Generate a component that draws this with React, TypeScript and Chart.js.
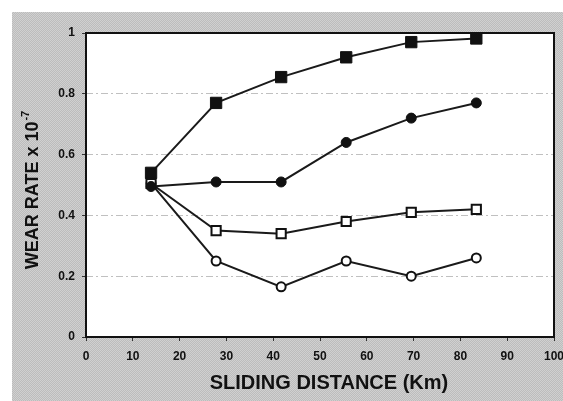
import React, { useEffect, useRef } from "react";
import { Chart, registerables } from "chart.js";

Chart.register(...registerables);

// Sliding distance (km)
const distanceKm = [13.9, 27.8, 41.7, 55.6, 69.5, 83.4];
// Wear rate x 10^-7
const filledSquareSeries = [0.54, 0.77, 0.855, 0.92, 0.97, 0.982];
const filledCircleSeries = [0.495, 0.51, 0.51, 0.64, 0.72, 0.77];
const openSquareSeries = [0.505, 0.35, 0.34, 0.38, 0.41, 0.42];
const openCircleSeries = [0.505, 0.25, 0.165, 0.25, 0.2, 0.26];

const xTitle = "SLIDING DISTANCE (Km)";
const yTitleMain = "WEAR RATE x 10";
const yTitleSup = "-7";

const FONT = "'Liberation Sans', Arial, Helvetica, sans-serif";

function toPoints(ys: number[]) {
  return distanceKm.map((x, i) => ({ x, y: ys[i] }));
}

function makePattern(ctx: CanvasRenderingContext2D) {
  const c = document.createElement("canvas");
  c.width = 2;
  c.height = 2;
  const p = c.getContext("2d")!;
  p.fillStyle = "#bcbcbc";
  p.fillRect(0, 0, 2, 2);
  p.fillStyle = "#d0d0d0";
  p.fillRect(0, 0, 1, 1);
  p.fillRect(1, 1, 1, 1);
  return ctx.createPattern(c, "repeat");
}

const framePlugin = {
  id: "frame",
  beforeDraw(chart: any) {
    const { ctx, chartArea } = chart;
    ctx.save();
    ctx.fillStyle = "#ffffff";
    ctx.fillRect(0, 0, chart.width, chart.height);
    ctx.fillStyle = makePattern(ctx) || "#c6c6c6";
    ctx.fillRect(12, 12, chart.width - 12, chart.height - 12);
    ctx.fillStyle = "#ffffff";
    ctx.fillRect(chartArea.left, chartArea.top, chartArea.right - chartArea.left, chartArea.bottom - chartArea.top);
    ctx.restore();
  },
  beforeDatasetsDraw(chart: any) {
    const { ctx, chartArea } = chart;
    ctx.save();
    ctx.strokeStyle = "#111111";
    ctx.lineWidth = 2;
    ctx.strokeRect(chartArea.left, chartArea.top, chartArea.right - chartArea.left, chartArea.bottom - chartArea.top);
    ctx.restore();
  },
  afterDraw(chart: any) {
    const { ctx } = chart;
    ctx.save();
    ctx.fillStyle = "#111111";
    // x title
    ctx.font = `bold 20px ${FONT}`;
    ctx.textAlign = "center";
    ctx.textBaseline = "middle";
    ctx.fillText(xTitle, 329, 383);
    // y title (rotated, with superscript)
    ctx.translate(33, 190);
    ctx.rotate(-Math.PI / 2);
    ctx.font = `bold 18px ${FONT}`;
    const wMain = ctx.measureText(yTitleMain).width;
    ctx.font = `bold 11px ${FONT}`;
    const wSup = ctx.measureText(yTitleSup).width;
    const total = wMain + wSup + 1;
    ctx.textAlign = "left";
    ctx.textBaseline = "middle";
    ctx.font = `bold 18px ${FONT}`;
    ctx.fillText(yTitleMain, -total / 2, 0);
    ctx.font = `bold 11px ${FONT}`;
    ctx.fillText(yTitleSup, -total / 2 + wMain + 1, -7);
    ctx.restore();
  },
};

export default function App() {
  const ref = useRef<HTMLCanvasElement | null>(null);
  useEffect(() => {
    if (!ref.current) return;
    const lineColor = "#1a1a1a";
    const chart = new Chart(ref.current, {
      type: "scatter",
      data: {
        datasets: [
          {
            label: "Filled squares",
            data: toPoints(filledSquareSeries),
            showLine: true,
            borderColor: lineColor,
            borderWidth: 2,
            pointStyle: "rect",
            pointRadius: 8,
            pointBackgroundColor: "#111111",
            pointBorderColor: "#111111",
            pointBorderWidth: 1,
          },
          {
            label: "Filled circles",
            data: toPoints(filledCircleSeries),
            showLine: true,
            borderColor: lineColor,
            borderWidth: 2,
            pointStyle: "circle",
            pointRadius: 5,
            pointBackgroundColor: "#111111",
            pointBorderColor: "#111111",
            pointBorderWidth: 1,
          },
          {
            label: "Open squares",
            data: toPoints(openSquareSeries),
            showLine: true,
            borderColor: lineColor,
            borderWidth: 2,
            pointStyle: "rect",
            pointRadius: 6.5,
            pointBackgroundColor: "#ffffff",
            pointBorderColor: "#111111",
            pointBorderWidth: 2,
          },
          {
            label: "Open circles",
            data: toPoints(openCircleSeries),
            showLine: true,
            borderColor: lineColor,
            borderWidth: 2,
            pointStyle: "circle",
            pointRadius: 4.5,
            pointBackgroundColor: "#ffffff",
            pointBorderColor: "#111111",
            pointBorderWidth: 2,
          },
        ],
      },
      plugins: [framePlugin],
      options: {
        responsive: false,
        animation: false,
        layout: { padding: { left: 0, top: 33, right: 8, bottom: 0 } },
        plugins: {
          legend: { display: false },
          tooltip: { enabled: false },
        },
        scales: {
          x: {
            type: "linear",
            min: 0,
            max: 100,
            afterFit: (s: any) => {
              s.height = 64;
              s.paddingLeft = 0;
              s.paddingRight = 0;
            },
            ticks: {
              stepSize: 10,
              color: "#111111",
              font: { family: FONT, size: 12, weight: "bold" },
              padding: 8,
            },
            grid: {
              drawOnChartArea: false,
              drawTicks: true,
              tickLength: 4,
              tickColor: "#333333",
            },
            border: { display: false },
          },
          y: {
            min: 0,
            max: 1,
            afterFit: (s: any) => {
              s.width = 86;
              s.paddingTop = 0;
              s.paddingBottom = 0;
            },
            ticks: {
              stepSize: 0.2,
              color: "#111111",
              font: { family: FONT, size: 12, weight: "bold" },
              padding: 7,
              callback: (v: any) => String(Number(Number(v).toFixed(1))),
            },
            grid: {
              color: (c: any) =>
                c.tick && c.tick.value > 0.01 && c.tick.value < 0.99 ? "rgba(130,130,130,0.5)" : "rgba(0,0,0,0)",
              lineWidth: 1,
              drawTicks: true,
              tickLength: 4,
              tickColor: "#333333",
              tickBorderDash: [],
            },
            border: { display: false, dash: [7, 3, 2, 3] },
          },
        },
      },
    } as any);
    return () => chart.destroy();
  }, []);
  return (
    <div style={{ position: "fixed", left: 0, top: 0, width: 563, height: 401 }}>
      <canvas ref={ref} width={563} height={401} style={{ width: 563, height: 401, display: "block" }} />
    </div>
  );
}
